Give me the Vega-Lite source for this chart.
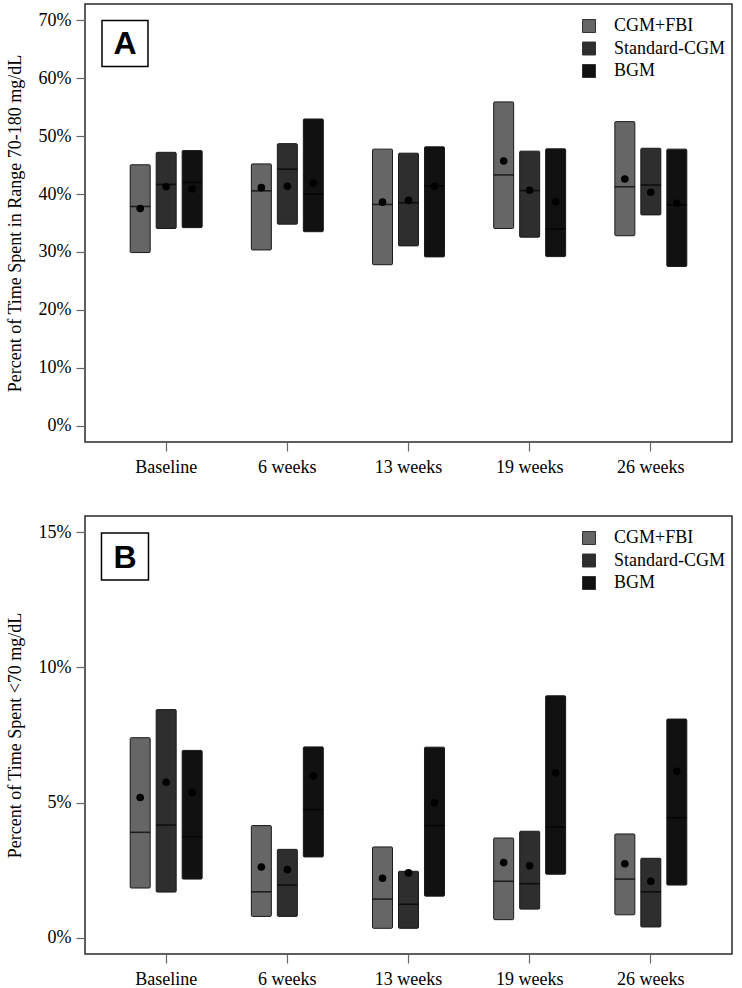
{
  "$schema": "https://vega.github.io/schema/vega-lite/v6.json",
  "background": "white",
  "padding": {"left": 5, "top": 3, "right": 0, "bottom": 0},
  "spacing": 74,
  "bounds": "flush",
  "datasets": {
    "stats": [
      {"panel": "A", "time": "Baseline", "group": "CGM+FBI", "lo": 29.9, "hi": 45.05, "median": 37.85, "mean": 37.5},
      {"panel": "A", "time": "Baseline", "group": "Standard-CGM", "lo": 34.05, "hi": 47.2, "median": 41.65, "mean": 41.25},
      {"panel": "A", "time": "Baseline", "group": "BGM", "lo": 34.2, "hi": 47.5, "median": 42.0, "mean": 40.9},
      {"panel": "A", "time": "6 weeks", "group": "CGM+FBI", "lo": 30.35, "hi": 45.2, "median": 40.55, "mean": 41.1},
      {"panel": "A", "time": "6 weeks", "group": "Standard-CGM", "lo": 34.8, "hi": 48.7, "median": 44.3, "mean": 41.35},
      {"panel": "A", "time": "6 weeks", "group": "BGM", "lo": 33.5, "hi": 52.95, "median": 40.0, "mean": 41.9},
      {"panel": "A", "time": "13 weeks", "group": "CGM+FBI", "lo": 27.8, "hi": 47.75, "median": 38.2, "mean": 38.6},
      {"panel": "A", "time": "13 weeks", "group": "Standard-CGM", "lo": 31.05, "hi": 47.05, "median": 38.5, "mean": 38.9},
      {"panel": "A", "time": "13 weeks", "group": "BGM", "lo": 29.15, "hi": 48.15, "median": 41.4, "mean": 41.3},
      {"panel": "A", "time": "19 weeks", "group": "CGM+FBI", "lo": 34.05, "hi": 55.9, "median": 43.3, "mean": 45.7},
      {"panel": "A", "time": "19 weeks", "group": "Standard-CGM", "lo": 32.55, "hi": 47.4, "median": 40.6, "mean": 40.65},
      {"panel": "A", "time": "19 weeks", "group": "BGM", "lo": 29.2, "hi": 47.8, "median": 34.0, "mean": 38.65},
      {"panel": "A", "time": "26 weeks", "group": "CGM+FBI", "lo": 32.8, "hi": 52.5, "median": 41.25, "mean": 42.6},
      {"panel": "A", "time": "26 weeks", "group": "Standard-CGM", "lo": 36.4, "hi": 47.9, "median": 41.55, "mean": 40.3},
      {"panel": "A", "time": "26 weeks", "group": "BGM", "lo": 27.5, "hi": 47.75, "median": 38.15, "mean": 38.4},
      {"panel": "B", "time": "Baseline", "group": "CGM+FBI", "lo": 1.84, "hi": 7.4, "median": 3.9, "mean": 5.19},
      {"panel": "B", "time": "Baseline", "group": "Standard-CGM", "lo": 1.69, "hi": 8.44, "median": 4.17, "mean": 5.75},
      {"panel": "B", "time": "Baseline", "group": "BGM", "lo": 2.17, "hi": 6.93, "median": 3.74, "mean": 5.37},
      {"panel": "B", "time": "6 weeks", "group": "CGM+FBI", "lo": 0.79, "hi": 4.15, "median": 1.7, "mean": 2.62},
      {"panel": "B", "time": "6 weeks", "group": "Standard-CGM", "lo": 0.79, "hi": 3.27, "median": 1.95, "mean": 2.52},
      {"panel": "B", "time": "6 weeks", "group": "BGM", "lo": 2.99, "hi": 7.06, "median": 4.74, "mean": 5.99},
      {"panel": "B", "time": "13 weeks", "group": "CGM+FBI", "lo": 0.35, "hi": 3.36, "median": 1.43, "mean": 2.2},
      {"panel": "B", "time": "13 weeks", "group": "Standard-CGM", "lo": 0.35, "hi": 2.46, "median": 1.24, "mean": 2.4},
      {"panel": "B", "time": "13 weeks", "group": "BGM", "lo": 1.54, "hi": 7.05, "median": 4.15, "mean": 4.99},
      {"panel": "B", "time": "19 weeks", "group": "CGM+FBI", "lo": 0.67, "hi": 3.69, "median": 2.09, "mean": 2.78},
      {"panel": "B", "time": "19 weeks", "group": "Standard-CGM", "lo": 1.06, "hi": 3.94, "median": 2.0, "mean": 2.66},
      {"panel": "B", "time": "19 weeks", "group": "BGM", "lo": 2.35, "hi": 8.95, "median": 4.09, "mean": 6.1},
      {"panel": "B", "time": "26 weeks", "group": "CGM+FBI", "lo": 0.85, "hi": 3.84, "median": 2.17, "mean": 2.74},
      {"panel": "B", "time": "26 weeks", "group": "Standard-CGM", "lo": 0.4, "hi": 2.94, "median": 1.7, "mean": 2.09},
      {"panel": "B", "time": "26 weeks", "group": "BGM", "lo": 1.95, "hi": 8.09, "median": 4.44, "mean": 6.16}
    ]
  },
  "vconcat": [
    {
      "width": 647,
      "height": 438,
      "layer": [
        {
          "data": {"name": "stats"},
          "transform": [{"filter": "datum.panel === 'A'"}],
          "encoding": {
            "x": {"field": "time", "type": "nominal", "scale": {"domain": ["Baseline", "6 weeks", "13 weeks", "19 weeks", "26 weeks"], "paddingInner": 0.406, "paddingOuter": 0.373}, "axis": {"title": null, "labelAngle": 0}},
            "xOffset": {"field": "group", "type": "nominal", "scale": {"domain": ["CGM+FBI", "Standard-CGM", "BGM"], "paddingInner": 0.2308, "paddingOuter": 0}}
          },
          "layer": [
            {
              "mark": {"type": "bar", "stroke": "#1a1a1a", "strokeWidth": 1, "cornerRadius": 1},
              "encoding": {
                "y": {"field": "lo", "type": "quantitative", "scale": {"domain": [-2.8, 72.8], "nice": false, "zero": false}, "axis": {"title": "Percent of Time Spent in Range 70-180 mg/dL", "values": [0, 10, 20, 30, 40, 50, 60, 70], "labelExpr": "datum.value + '%'"}},
                "y2": {"field": "hi"},
                "color": {"field": "group", "type": "nominal", "scale": {"domain": ["CGM+FBI", "Standard-CGM", "BGM"], "range": ["#666666", "#2e2e2e", "#111111"]}, "legend": {"title": null, "orient": "none", "legendX": 495, "legendY": 13}}
              }
            },
            {
              "mark": {"type": "tick", "orient": "horizontal", "size": 20, "thickness": 1.6, "color": "black"},
              "encoding": {"y": {"field": "median", "type": "quantitative", "axis": {"title": "Percent of Time Spent in Range 70-180 mg/dL", "values": [0, 10, 20, 30, 40, 50, 60, 70], "labelExpr": "datum.value + '%'"}}}
            },
            {
              "mark": {"type": "point", "filled": true, "size": 58, "color": "black", "opacity": 1},
              "encoding": {"y": {"field": "mean", "type": "quantitative", "axis": {"title": "Percent of Time Spent in Range 70-180 mg/dL", "values": [0, 10, 20, 30, 40, 50, 60, 70], "labelExpr": "datum.value + '%'"}}}
            }
          ]
        },
        {
          "data": {"values": [{"label": "A"}]},
          "encoding": {
            "x": {"datum": 0.0618, "type": "quantitative", "scale": {"domain": [0, 1], "nice": false, "zero": false}, "axis": null},
            "y": {"datum": 66.0, "type": "quantitative", "scale": {"domain": [-2.8, 72.8], "nice": false, "zero": false}, "axis": null}
          },
          "layer": [
            {"mark": {"type": "point", "shape": "square", "size": 2116, "filled": true, "fill": "white", "stroke": "black", "strokeWidth": 1.5, "opacity": 1}},
            {"mark": {"type": "text", "font": "Liberation Sans", "fontWeight": "bold", "fontSize": 32, "baseline": "middle", "align": "center", "dy": 1, "color": "black"}, "encoding": {"text": {"field": "label"}}}
          ]
        }
      ],
      "resolve": {"scale": {"x": "independent", "y": "independent"}}
    },
    {
      "width": 647,
      "height": 438,
      "layer": [
        {
          "data": {"name": "stats"},
          "transform": [{"filter": "datum.panel === 'B'"}],
          "encoding": {
            "x": {"field": "time", "type": "nominal", "scale": {"domain": ["Baseline", "6 weeks", "13 weeks", "19 weeks", "26 weeks"], "paddingInner": 0.406, "paddingOuter": 0.373}, "axis": {"title": null, "labelAngle": 0}},
            "xOffset": {"field": "group", "type": "nominal", "scale": {"domain": ["CGM+FBI", "Standard-CGM", "BGM"], "paddingInner": 0.2308, "paddingOuter": 0}}
          },
          "layer": [
            {
              "mark": {"type": "bar", "stroke": "#1a1a1a", "strokeWidth": 1, "cornerRadius": 1},
              "encoding": {
                "y": {"field": "lo", "type": "quantitative", "scale": {"domain": [-0.6, 15.6], "nice": false, "zero": false}, "axis": {"title": "Percent of Time Spent <70 mg/dL", "values": [0, 5, 10, 15], "labelExpr": "datum.value + '%'"}},
                "y2": {"field": "hi"},
                "color": {"field": "group", "type": "nominal", "scale": {"domain": ["CGM+FBI", "Standard-CGM", "BGM"], "range": ["#666666", "#2e2e2e", "#111111"]}, "legend": {"title": null, "orient": "none", "legendX": 495, "legendY": 13}}
              }
            },
            {
              "mark": {"type": "tick", "orient": "horizontal", "size": 20, "thickness": 1.6, "color": "black"},
              "encoding": {"y": {"field": "median", "type": "quantitative", "axis": {"title": "Percent of Time Spent <70 mg/dL", "values": [0, 5, 10, 15], "labelExpr": "datum.value + '%'"}}}
            },
            {
              "mark": {"type": "point", "filled": true, "size": 58, "color": "black", "opacity": 1},
              "encoding": {"y": {"field": "mean", "type": "quantitative", "axis": {"title": "Percent of Time Spent <70 mg/dL", "values": [0, 5, 10, 15], "labelExpr": "datum.value + '%'"}}}
            }
          ]
        },
        {
          "data": {"values": [{"label": "B"}]},
          "encoding": {
            "x": {"datum": 0.0618, "type": "quantitative", "scale": {"domain": [0, 1], "nice": false, "zero": false}, "axis": null},
            "y": {"datum": 14.1, "type": "quantitative", "scale": {"domain": [-0.6, 15.6], "nice": false, "zero": false}, "axis": null}
          },
          "layer": [
            {"mark": {"type": "point", "shape": "square", "size": 2209, "filled": true, "fill": "white", "stroke": "black", "strokeWidth": 1.5, "opacity": 1}},
            {"mark": {"type": "text", "font": "Liberation Sans", "fontWeight": "bold", "fontSize": 32, "baseline": "middle", "align": "center", "dy": 1, "color": "black"}, "encoding": {"text": {"field": "label"}}}
          ]
        }
      ],
      "resolve": {"scale": {"x": "independent", "y": "independent"}}
    }
  ],
  "resolve": {"scale": {"color": "independent"}, "legend": {"color": "independent"}},
  "config": {
    "view": {"stroke": "#2a2a2a", "strokeWidth": 1.5},
    "axis": {"domain": false, "grid": false, "ticks": true, "tickColor": "#666666", "tickSize": 9, "tickWidth": 1.2, "labelFont": "Liberation Serif", "labelFontSize": 18, "labelColor": "#000000", "titleFont": "Liberation Serif", "titleFontSize": 18, "titleFontWeight": "normal", "titleColor": "#000000", "labelPadding": 5},
    "axisX": {"labelPadding": 7},
    "axisY": {"titlePadding": 14},
    "legend": {"symbolType": "square", "symbolSize": 169, "symbolStrokeColor": "#333333", "symbolStrokeWidth": 1, "symbolOpacity": 1, "labelFont": "Liberation Serif", "labelFontSize": 18, "labelColor": "#000000", "labelOffset": 16, "rowPadding": 4.5, "padding": 0}
  }
}
